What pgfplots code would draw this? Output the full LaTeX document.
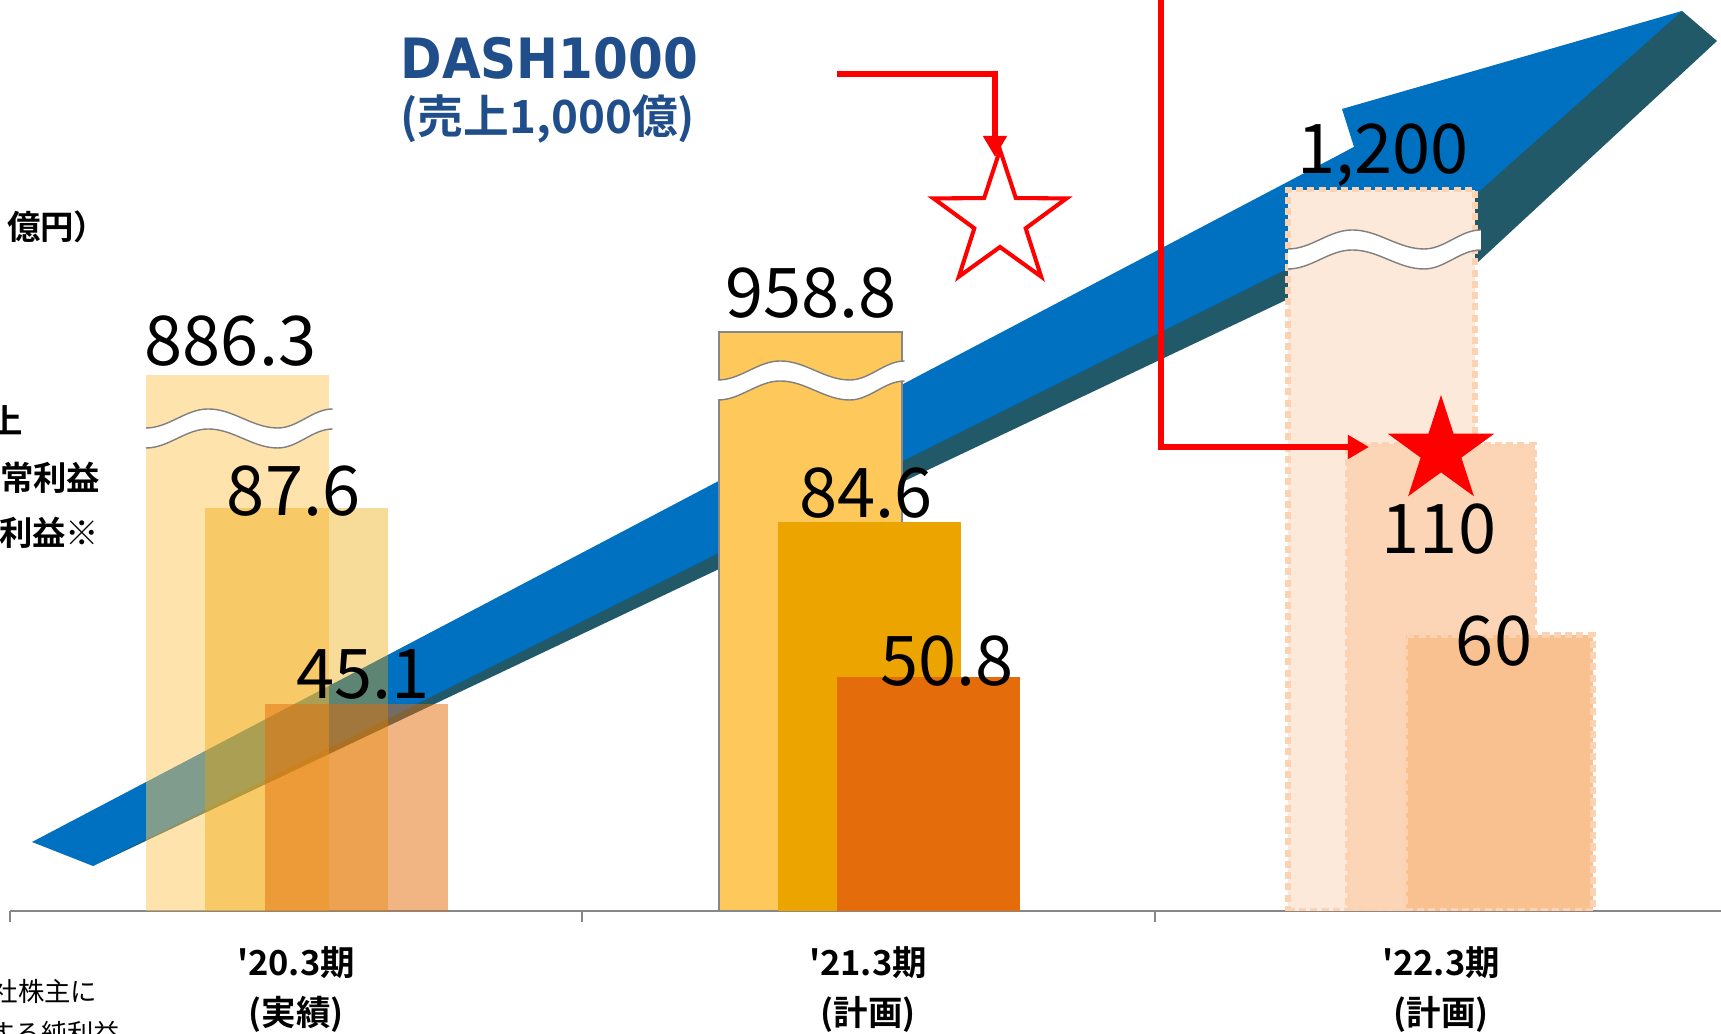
\documentclass[border=0pt]{standalone}
\usepackage{pgfplots}
\pgfplotsset{compat=1.18}
\usepackage{fontspec}
\setmainfont{Noto Sans CJK JP}[BoldFont={Noto Sans CJK JP Bold}]
\newfontfamily\dashfont{DejaVu Sans}[FakeStretch=0.9]
\usetikzlibrary{arrows.meta}

\definecolor{arrowblue}{HTML}{0070C0}
\definecolor{arrowdark}{HTML}{215968}
\definecolor{dashblue}{HTML}{1F4E8A}
\definecolor{salesc}{HTML}{FFC85A}
\definecolor{opc}{HTML}{ECA400}
\definecolor{netc}{HTML}{E46C0A}
\definecolor{sales3}{HTML}{FDE9D9}
\definecolor{op3}{HTML}{FBD5B5}
\definecolor{net3}{HTML}{F9C090}
\definecolor{edge3}{HTML}{FBD3B3}
\definecolor{axisgray}{HTML}{878787}

% wavy break across a bar: left, right, y (px from top) of the upper curve's trough
\newcommand\brk[3]{%
  \pgfmathsetmacro\bL{#1}\pgfmathsetmacro\bW{#2-#1}\pgfmathsetmacro\bT{1034-#3}%
  \fill[white] (\bL,\bT) cos ({\bL+0.17*\bW},{\bT+9.5}) sin ({\bL+0.34*\bW},{\bT+19})
    cos ({\bL+0.53*\bW},{\bT+9.5}) sin ({\bL+0.72*\bW},\bT) cos ({\bL+0.87*\bW},{\bT+9.5})
    sin ({\bL+1.02*\bW},{\bT+19}) -- ({\bL+1.02*\bW},{\bT-1}) cos ({\bL+0.87*\bW},{\bT-10.5})
    sin ({\bL+0.72*\bW},{\bT-20}) cos ({\bL+0.53*\bW},{\bT-10.5}) sin ({\bL+0.34*\bW},{\bT-1})
    cos ({\bL+0.17*\bW},{\bT-10.5}) sin (\bL,{\bT-20}) -- cycle;
  \draw[gray, line width=0.4pt] (\bL,\bT) cos ({\bL+0.17*\bW},{\bT+9.5}) sin ({\bL+0.34*\bW},{\bT+19})
    cos ({\bL+0.53*\bW},{\bT+9.5}) sin ({\bL+0.72*\bW},\bT) cos ({\bL+0.87*\bW},{\bT+9.5})
    sin ({\bL+1.02*\bW},{\bT+19});
  \draw[gray, line width=0.4pt] (\bL,{\bT-20}) cos ({\bL+0.17*\bW},{\bT-10.5}) sin ({\bL+0.34*\bW},{\bT-1})
    cos ({\bL+0.53*\bW},{\bT-10.5}) sin ({\bL+0.72*\bW},{\bT-20}) cos ({\bL+0.87*\bW},{\bT-10.5})
    sin ({\bL+1.02*\bW},{\bT-1});
}

\begin{document}
\begin{tikzpicture}[x=0.01cm,y=0.01cm]
\path[use as bounding box] (0,0) rectangle (1721,1034);
\clip (0,0) rectangle (1721,1034);

% 3D arrow behind the bars
\fill[arrowdark] (93,168) -- (1400,788) -- (1450,746) -- (1717,993) -- (1682,1023) -- (1354,887) -- cycle;
\fill[arrowblue] (32,192) -- (1354,887) -- (1342,925) -- (1682,1023) -- (1430,799) -- (1405,824) -- (93,168) -- cycle;

\begin{axis}[at={(0.10cm,1.23cm)},anchor=south west,scale only axis,width=17.11cm,height=9.11cm,
  xmin=-0.5,xmax=2.491,ymin=0,ymax=198.3,
  axis x line=bottom,axis y line=none,axis line style={axisgray,line width=0.6pt,-},
  xtick={-0.5,0.5,1.5},xticklabels={},ytick=\empty,
  tick align=outside,major tick length=3.2pt,tick style={axisgray,line width=0.6pt}]
% '20.3 actual: sales (broken), ordinary profit, net profit
\addplot[ybar,bar width=0.32,bar shift=0pt,fill=salesc,fill opacity=0.5,draw=none] coordinates {(-0.102,116.5)};
\addplot[ybar,bar width=0.32,bar shift=0pt,fill=opc,fill opacity=0.4,draw=none] coordinates {(0.0,87.6)};
\addplot[ybar,bar width=0.32,bar shift=0pt,fill=netc,fill opacity=0.5,draw=none] coordinates {(0.105,45.1)};
% '21.3 plan
\addplot[ybar,bar width=0.32,bar shift=0pt,fill=salesc,draw=axisgray,line width=0.5pt] coordinates {(0.898,125.9)};
\addplot[ybar,bar width=0.32,bar shift=0pt,fill=opc,draw=none] coordinates {(1.001,84.6)};
\addplot[ybar,bar width=0.32,bar shift=0pt,fill=netc,draw=none] coordinates {(1.105,50.8)};
% '22.3 plan
\addplot[ybar,bar width=0.327,bar shift=0pt,fill=sales3,draw=edge3,line width=1.5pt,dash pattern=on 2pt off 1.2pt] coordinates {(1.896,156.9)};
\addplot[ybar,bar width=0.327,bar shift=0pt,fill=op3,draw=edge3,line width=1.5pt,dash pattern=on 2pt off 1.2pt] coordinates {(2.0,101.5)};
\addplot[ybar,bar width=0.327,bar shift=0pt,fill=net3,draw=edge3,line width=1.5pt,dash pattern=on 2pt off 1.2pt] coordinates {(2.102,60)};
\end{axis}

\brk{146}{329}{428}
\brk{718}{901}{380}
\brk{1288}{1477}{249}

% value labels
\begin{scope}[every node/.style={anchor=base,inner sep=0pt,font=\fontsize{19.5}{20}\selectfont}]
\node at (230.5,668.5) {886.3};
\node at (293.6,518) {87.6};
\node at (362.8,335) {45.1};
\node at (811,716) {958.8};
\node at (866,516) {84.6};
\node at (946.7,348) {50.8};
\node at (1383,860.6) {1,200};
\node at (1439,480) {110};
\node at (1494,368) {60};
\end{scope}

% title
\node[anchor=base west,inner sep=0pt,text=dashblue,font=\dashfont\bfseries\fontsize{15.8}{16}\selectfont] at (400,955) {DASH1000};
\node[anchor=base west,inner sep=0pt,text=dashblue,font=\bfseries\fontsize{13}{14}\selectfont] at (400,900) {(売上1,000億)};

% category labels
\begin{scope}[every node/.style={anchor=base,inner sep=0pt,font=\bfseries\fontsize{9.8}{10}\selectfont}]
\node at (296,58) {\textquotesingle 20.3期};
\node at (296,8) {(実績)};
\node at (868,58) {\textquotesingle 21.3期};
\node at (868,8) {(計画)};
\node at (1441,58) {\textquotesingle 22.3期};
\node at (1441,8) {(計画)};
\end{scope}

% legend text cut by the left edge
\begin{scope}[every node/.style={anchor=base east,inner sep=0pt,font=\bfseries\fontsize{9.5}{10}\selectfont}]
\node at (108,794) {（単位：億円）};
\node at (24,600) {売上};
\node at (101,543) {経常利益};
\node at (100,488) {当期純利益※};
\end{scope}
\begin{scope}[every node/.style={anchor=base east,inner sep=0pt,font=\fontsize{7.5}{8}\selectfont}]
\node at (98,32) {※親会社株主に};
\node at (121,-10) {帰属する純利益};
\end{scope}

% red markers
\draw[red,line width=1.9pt,-{Triangle[length=6pt,width=6.5pt]}] (837,960) -- (995,960) -- (995,877);
\fill[white] (1000,814) +(90:70) -- +(126:27) -- +(162:70) -- +(198:27) -- +(234:70) -- +(270:27) -- +(306:70) -- +(342:27) -- +(18:70) -- +(54:27) -- cycle;
\draw[red,line width=1.15pt,line join=miter] (1000,814) +(90:70) -- +(126:27) -- +(162:70) -- +(198:27) -- +(234:70) -- +(270:27) -- +(306:70) -- +(342:27) -- +(18:70) -- +(54:27) -- cycle;
\draw[red,line width=1.9pt,-{Triangle[length=6pt,width=6.5pt]}] (1161,1040) -- (1161,587) -- (1369,587);
\fill[red] (1441,583) +(90:56) -- +(126:21.4) -- +(162:56) -- +(198:21.4) -- +(234:56) -- +(270:21.4) -- +(306:56) -- +(342:21.4) -- +(18:56) -- +(54:21.4) -- cycle;
\end{tikzpicture}
\end{document}
